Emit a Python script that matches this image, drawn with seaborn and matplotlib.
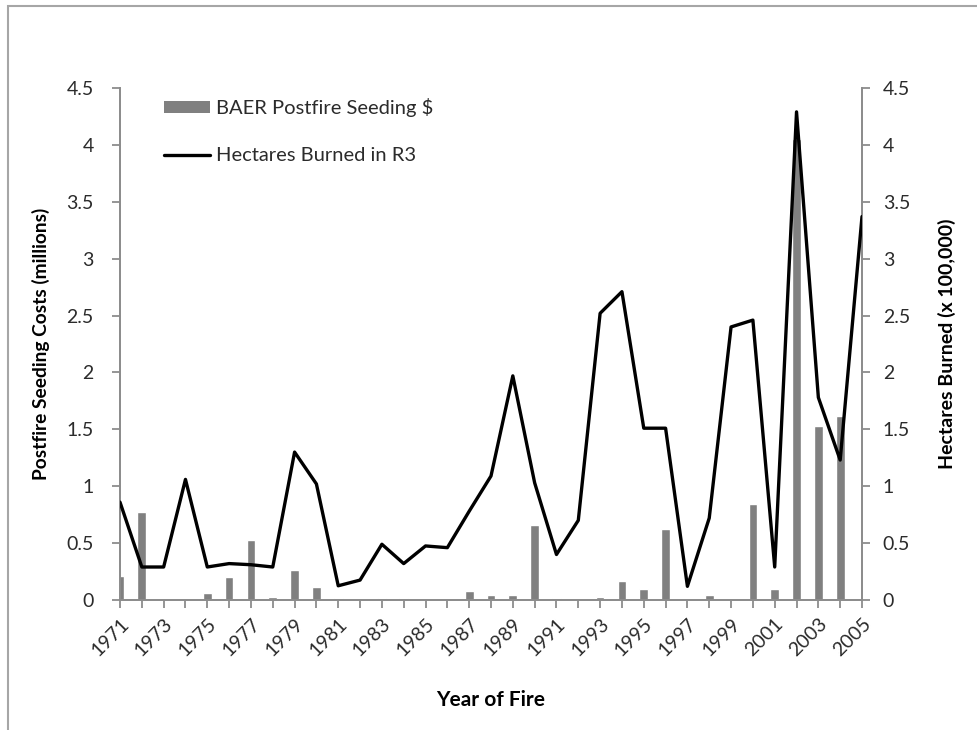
import numpy as np
import pandas as pd
import matplotlib
matplotlib.use("Agg")
import matplotlib.pyplot as plt
from matplotlib.patches import Patch, Rectangle
from matplotlib.lines import Line2D
import seaborn as sns

# Fire years and the two series
years = list(range(1971, 2006))
seeding_cost = [0.215, 0.77, 0.0, 0.0, 0.06, 0.20, 0.53, 0.03, 0.26, 0.11,
                0.015, 0.0, 0.015, 0.015, 0.0, 0.0, 0.075, 0.045, 0.045, 0.66,
                0.015, 0.0, 0.03, 0.17, 0.095, 0.62, 0.0, 0.045, 0.0, 0.84,
                0.095, 4.05, 1.53, 1.62, 0.0]
hectares_burned = [0.86, 0.29, 0.29, 1.06, 0.29, 0.32, 0.31, 0.29, 1.30, 1.02,
                   0.125, 0.175, 0.49, 0.32, 0.475, 0.46, 0.78, 1.09, 1.97, 1.03,
                   0.40, 0.70, 2.52, 2.71, 1.51, 1.51, 0.12, 0.72, 2.40, 2.46,
                   0.29, 4.29, 1.78, 1.23, 3.37]
y_ticks = [0, 0.5, 1, 1.5, 2, 2.5, 3, 3.5, 4, 4.5]
y_tick_labels = ["0", "0.5", "1", "1.5", "2", "2.5", "3", "3.5", "4", "4.5"]
x_tick_labels = [str(y) if (y - 1971) % 2 == 0 else "" for y in years]

df = pd.DataFrame({"year": years, "cost": seeding_cost, "hectares": hectares_burned})

sns.set_theme(style="white")
plt.rcParams["font.family"] = ["Lato", "DejaVu Sans"]

AXIS_GREY = "#8c8c8c"
TEXT = "#2b2b2b"
TICK_SIZE = 14

fig = plt.figure(figsize=(9.78, 7.3), dpi=100)
fig.patches.append(Rectangle((8 / 978, -0.01), 1.0, 1 - 6 / 730 + 0.01,
                             transform=fig.transFigure, fill=False,
                             edgecolor="#a6a6a6", linewidth=1.5))

ax = fig.add_axes([120 / 978, 1 - 600 / 730, (862 - 120) / 978, (600 - 88) / 730])
sns.barplot(data=df, x="year", y="cost", native_scale=True, width=0.4,
            color="#808080", saturation=1, ax=ax, zorder=2)
ax.set_xlim(1971, 2005)
ax.set_ylim(0, 4.5)

ax2 = ax.twinx()
sns.lineplot(data=df, x="year", y="hectares", color="black", linewidth=2.4,
             ax=ax2, zorder=3)
ax2.set_ylim(0, 4.5)
ax2.set_xlim(1971, 2005)

for a in (ax, ax2):
    a.spines["top"].set_visible(False)
    for side in ("left", "right", "bottom"):
        a.spines[side].set_color(AXIS_GREY)
        a.spines[side].set_linewidth(1.3)

ax.set_yticks(y_ticks)
ax.set_yticklabels(y_tick_labels)
ax2.set_yticks(y_ticks)
ax2.set_yticklabels(y_tick_labels)
ax.set_xticks(years)
ax.set_xticklabels(x_tick_labels, rotation=45, ha="right", rotation_mode="anchor")

ax.tick_params(axis="y", which="both", left=True, length=6, width=1.3,
               color=AXIS_GREY, labelsize=TICK_SIZE, labelcolor=TEXT, pad=13)
ax2.tick_params(axis="y", which="both", right=True, length=6, width=1.3,
                color=AXIS_GREY, labelsize=TICK_SIZE, labelcolor=TEXT, pad=9)
ax.tick_params(axis="x", which="both", bottom=True, length=6, width=1.3,
               color=AXIS_GREY, labelsize=TICK_SIZE, labelcolor=TEXT, pad=5)

ax.set_xlabel("Year of Fire", fontsize=15, fontweight="bold", color="black",
              labelpad=22)
ax.set_ylabel("Postfire Seeding Costs (millions)", fontsize=13.8,
              fontweight="bold", color="black", labelpad=12)
ax2.set_ylabel("Hectares Burned (x 100,000)", fontsize=14,
               fontweight="bold", color="black", labelpad=20)

handles = [Patch(facecolor="#808080", edgecolor="none"),
           Line2D([0], [0], color="black", linewidth=2.4)]
ax2.legend(handles, ["BAER Postfire Seeding $", "Hectares Burned in R3"],
           loc="upper left", bbox_to_anchor=(0.037, 1.012), frameon=False,
           fontsize=14.5, labelcolor=TEXT, handlelength=2.3, handleheight=0.55,
           handletextpad=0.3, labelspacing=1.5, borderpad=0.3)

fig.savefig("out.png", dpi=100)
